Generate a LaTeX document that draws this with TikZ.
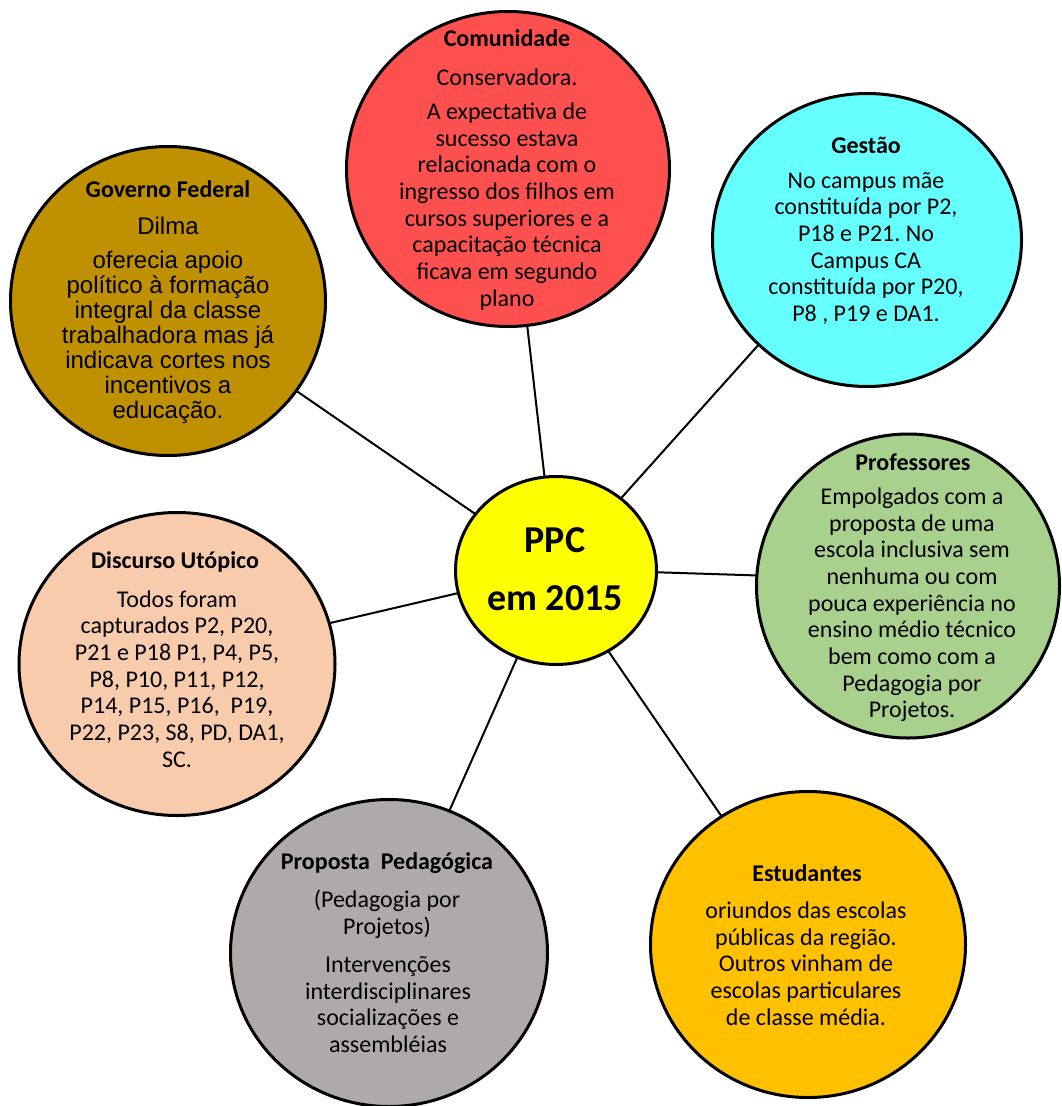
\documentclass[tikz,border=0pt]{standalone}
\usepackage{fontspec}
\setmainfont{Carlito}
\newfontfamily\arialf{Liberation Sans}
\usetikzlibrary{shapes.geometric}
\pgfdeclarelayer{bg}
\pgfsetlayers{bg,main}
\frenchspacing
\definecolor{cCom}{HTML}{FF5050}
\definecolor{cGes}{HTML}{66FFFF}
\definecolor{cGov}{HTML}{BF9000}
\definecolor{cPPC}{HTML}{FFFF00}
\definecolor{cPro}{HTML}{A9D18E}
\definecolor{cDis}{HTML}{F8CBAD}
\definecolor{cPrp}{HTML}{AEAAAA}
\definecolor{cEst}{HTML}{FFC000}
\tikzset{
  bubble/.style 2 args={ellipse, draw=black, line width=2.25pt, inner sep=0pt, outer sep=0pt,
    minimum width=#1*0.75pt, minimum height=#2*0.75pt},
  link/.style={line width=1.5pt, draw=black},
  ttl/.style={font=\fontsize{18}{20}\selectfont\bfseries, align=center, inner sep=0pt},
  txt/.style={font=\fontsize{18}{20}\selectfont, align=center, inner sep=0pt},
  artxt/.style={font=\arialf\fontsize{18}{18.75}\selectfont, align=center, inner sep=0pt},
  bigttl/.style={font=\fontsize{28.5}{32}\selectfont\bfseries, align=center, inner sep=0pt}
}
\begin{document}
\begin{tikzpicture}[x=0.75pt, y=-0.75pt]
\useasboundingbox (0,0) rectangle (1062,1106);

% bubbles
\node[bubble={323}{315}, fill=cCom] (com) at (508,169) {};
\node[bubble={309}{293}, fill=cGes] (ges) at (867,240) {};
\node[bubble={315}{309}, fill=cGov] (gov) at (168,301) {};
\node[bubble={201}{188}, fill=cPPC] (ppc) at (556,570.5) {};
\node[bubble={303}{304}, fill=cPro] (pro) at (908,586) {};
\node[bubble={316}{303}, fill=cDis] (dis) at (177,664) {};
\node[bubble={317}{307}, fill=cPrp] (prp) at (389,953) {};
\node[bubble={315}{306}, fill=cEst] (est) at (808,944.5) {};

% background and connectors
\begin{pgfonlayer}{bg}
\fill[white] (0,0) rectangle (1062,1106);
\draw[link] (ppc.97.7) -- (com.-83.5);
\draw[link] (ppc.48.8) -- (ges.224.2);
\draw[link] (ppc.145.3) -- (gov.-35.1);
\draw[link] (ppc.-1.4) -- (pro.176.6);
\draw[link] (ppc.193.8) -- (dis.15.1);
\draw[link] (ppc.246.2) -- (prp.67);
\draw[link] (ppc.303.7) -- (est.124.7);
\end{pgfonlayer}

% Comunidade
\node[ttl] (comT) at (507,38) {Comunidade};
\node[txt] (comA) at (507,77) {Conservadora.};
\node[txt] (comB) at (507,206.5) {A expectativa de\\sucesso estava\\relacionada com o\\ingresso dos filhos em\\cursos superiores e a\\capacitação técnica\\ficava em segundo\\plano};

% Gestao
\node[ttl] (gesT) at (866,145) {Gestão};
\node[txt] (gesB) at (866,248.5) {No campus mãe\\constituída por P2,\\P18 e P21. No\\Campus CA\\constituída por P20,\\P8 , P19 e DA1.};

% Governo Federal
\node[ttl] (govT) at (168,189) {Governo Federal};
\node[artxt] (govA) at (168,226) {Dilma};
\node[artxt] (govB) at (168,337) {oferecia apoio\\político à formação\\integral da classe\\trabalhadora mas já\\indicava cortes nos\\incentivos a\\educação.};

% PPC
\node[bigttl] (ppcA) at (555,540) {PPC};
\node[bigttl] (ppcB) at (555,598) {em 2015};

% Professores
\node[ttl] (proT) at (913,462) {Professores};
\node[txt] (proB) at (912,605) {Empolgados com a\\proposta de uma\\escola inclusiva sem\\nenhuma ou com\\pouca experiência no\\ensino médio técnico\\bem como com a\\Pedagogia por\\Projetos.};

% Discurso Utopico
\node[ttl] (disT) at (175,562) {Discurso Utópico};
\node[txt] (disB) at (177,679) {Todos foram\\capturados P2, P20,\\P21 e P18 P1, P4, P5,\\P8, P10, P11, P12,\\P14, P15, P16,\ \ P19,\\P22, P23, S8, PD, DA1,\\SC.};

% Proposta Pedagogica
\node[ttl] (prpT) at (387,863) {Proposta\ \ Pedagógica};
\node[txt] (prpA) at (387,914.5) {(Pedagogia por\\Projetos)};
\node[txt] (prpB) at (388,1004.5) {Intervenções\\interdisciplinares\\socializações e\\assembléias};

% Estudantes
\node[ttl] (estT) at (807,873) {Estudantes};
\node[txt] (estB) at (806,963.5) {oriundos das escolas\\públicas da região.\\Outros vinham de\\escolas particulares\\de classe média.};
\end{tikzpicture}
\end{document}
